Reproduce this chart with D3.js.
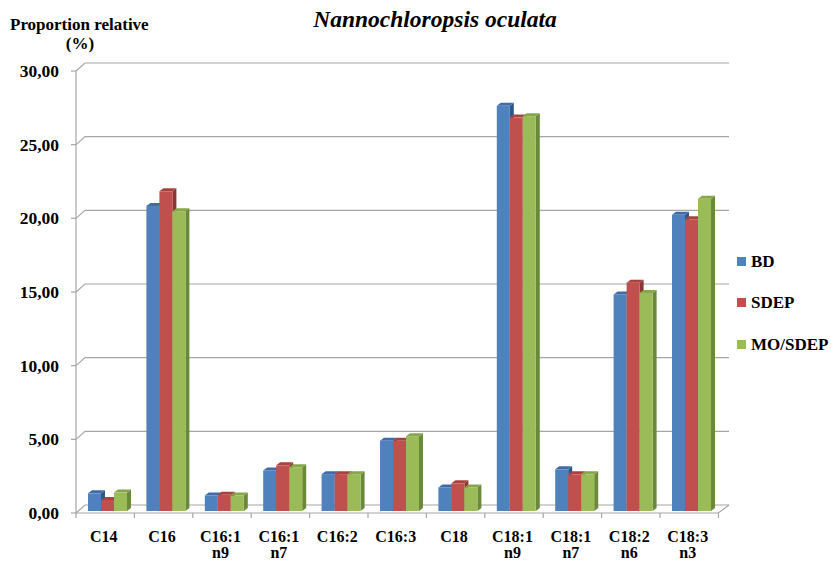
<!DOCTYPE html>
<html>
<head>
<meta charset="utf-8">
<script src="https://cdn.jsdelivr.net/npm/d3@7"></script>
<style>
  html, body { margin: 0; padding: 0; background: #fff; }
  svg { display: block; }
</style>
</head>
<body>
<script>
const categories = ["C14", "C16", "C16:1 n9", "C16:1 n7", "C16:2", "C16:3", "C18", "C18:1 n9", "C18:1 n7", "C18:2 n6", "C18:3 n3"];
const seriesNames = ["BD", "SDEP", "MO/SDEP"];
const BD      = [1.20, 20.70, 1.05, 2.75, 2.50, 4.77, 1.60, 27.50, 2.83, 14.70, 20.10];
const SDEP    = [0.75, 21.70, 1.10, 3.10, 2.50, 4.77, 1.88, 26.70, 2.49, 15.50, 19.80];
const MOSDEP  = [1.25, 20.35, 1.05, 2.97, 2.50, 5.08, 1.60, 26.80, 2.49, 14.80, 21.20];
const yTicks = [0, 5, 10, 15, 20, 25, 30];
const yTickLabels = ["0,00", "5,00", "10,00", "15,00", "20,00", "25,00", "30,00"];
const colorsFront = ["#4f81bd", "#c0504d", "#9bbb59"];
const colorsTop   = ["#3f6ca6", "#a8423f", "#87a64a"];
const colorsSide  = ["#2f5689", "#8a3533", "#6a8a3a"];

const seriesValues = [BD, SDEP, MOSDEP];

const W = 831, H = 561;
const svg = d3.select("body").append("svg").attr("width", W).attr("height", H)
  .attr("font-family", "'Liberation Serif', 'Times New Roman', Tinos, 'DejaVu Serif', serif")
  .attr("font-weight", "bold");

const yF = d3.scaleLinear().domain([0, 30]).range([513, 71]);
const DX = 9, DY = -8;
const x = d3.scaleBand().domain(categories).range([76, 718.4]).padding(0);
const xs = d3.scaleBand().domain(seriesNames).range([0, 39]).padding(0);
const barOffX = 12, barOffY = -2;
const bdx = 4, bdy = -3;

const gridColor = "#a6a6a6";

const grid = svg.append("g");
yTicks.forEach(v => {
  const yy = yF(v);
  grid.append("path")
    .attr("d", `M${x.range()[0]},${yy}L${x.range()[0] + DX},${yy + DY}L${729},${yy + DY}`)
    .attr("fill", "none").attr("stroke", gridColor).attr("stroke-width", 1.2);
});

svg.append("path")
  .attr("d", `M76,${yF(0)}L718.4,${yF(0)}L729,${yF(0) + DY}`)
  .attr("fill", "none").attr("stroke", gridColor).attr("stroke-width", 1.2);

svg.append("line").attr("x1", 76).attr("x2", 76).attr("y1", yF(30)).attr("y2", yF(0))
  .attr("stroke", gridColor).attr("stroke-width", 1.2);

yTicks.forEach((v, i) => {
  svg.append("line").attr("x1", 71).attr("x2", 76).attr("y1", yF(v)).attr("y2", yF(v))
    .attr("stroke", gridColor).attr("stroke-width", 1.2);
  svg.append("text").attr("x", 59).attr("y", yF(v) + 6)
    .attr("text-anchor", "end").attr("font-size", 17.5).text(yTickLabels[i]);
});

const catEdges = categories.map(c => x(c)).concat([x.range()[1]]);
catEdges.forEach(cx => {
  svg.append("line").attr("x1", cx).attr("x2", cx).attr("y1", yF(0)).attr("y2", yF(0) + 5)
    .attr("stroke", gridColor).attr("stroke-width", 1.2);
});

const yBar = v => yF(v) + barOffY;
const bars = svg.append("g");
categories.forEach((c, ci) => {
  seriesNames.forEach((s, si) => {
    const v = seriesValues[si][ci];
    const bw = xs.bandwidth();
    const x0 = x(c) + barOffX + xs(s);
    const yTop = yBar(v), yBot = yBar(0);
    const g = bars.append("g");
    g.append("path")
      .attr("d", `M${x0 + bw},${yTop}L${x0 + bw + bdx},${yTop + bdy}L${x0 + bw + bdx},${yBot + bdy}L${x0 + bw},${yBot}Z`)
      .attr("fill", colorsSide[si]);
    g.append("path")
      .attr("d", `M${x0},${yTop}L${x0 + bdx},${yTop + bdy}L${x0 + bw + bdx},${yTop + bdy}L${x0 + bw},${yTop}Z`)
      .attr("fill", colorsTop[si]);
    g.append("rect").attr("x", x0).attr("y", yTop).attr("width", bw).attr("height", yBot - yTop)
      .attr("fill", colorsFront[si]);
  });
});

categories.forEach(c => {
  const parts = c.split(" ");
  const cx = x(c) + x.bandwidth() / 2 - 1.5;
  parts.forEach((p, i) => {
    svg.append("text").attr("x", cx).attr("y", 542 + i * 16)
      .attr("text-anchor", "middle").attr("font-size", 16).text(p);
  });
});

const legY = [257, 298, 340];
seriesNames.forEach((s, i) => {
  svg.append("rect").attr("x", 737).attr("y", legY[i]).attr("width", 9).attr("height", 9)
    .attr("fill", colorsFront[i]);
  svg.append("text").attr("x", 751).attr("y", legY[i] + 9.5).attr("font-size", 17).text(s);
});

svg.append("text").attr("x", 435).attr("y", 27).attr("text-anchor", "middle")
  .attr("font-size", 23.5).attr("font-style", "italic").text("Nannochloropsis oculata");
svg.append("text").attr("x", 10).attr("y", 29.5).attr("font-size", 17).text("Proportion relative");
svg.append("text").attr("x", 80).attr("y", 49).attr("text-anchor", "middle").attr("font-size", 17).text("(%)");
</script>
</body>
</html>
